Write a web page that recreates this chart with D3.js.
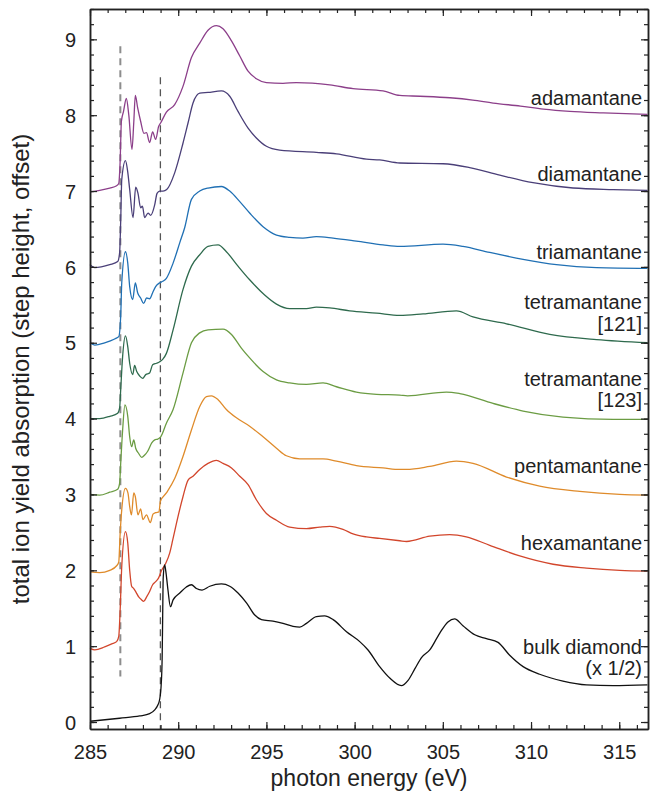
<!DOCTYPE html>
<html>
<head>
<meta charset="utf-8">
<script src="https://cdn.jsdelivr.net/npm/d3@7/dist/d3.min.js"></script>
<style>
  html, body { margin: 0; padding: 0; background: #fff; }
  svg { display: block; font-family: "Liberation Sans", Arial, Helvetica, sans-serif; }
</style>
</head>
<body>
<svg id="chart" width="657" height="793"></svg>
<script>
// ---------------- data (photon energy eV, offset absorption) ----------------
const seriesNames = ["adamantane", "diamantane", "triamantane", "tetramantane [121]",
  "tetramantane [123]", "pentamantane", "hexamantane", "bulk diamond (x 1/2)"];

const adamantane = [[285.0,6.99],[285.55,7.01],[286.12,7.04],[286.51,7.07],[286.63,7.10],[286.71,7.40],[286.78,7.92],[286.9,8.05],[287.06,8.22],[287.2,8.0],[287.38,7.55],[287.48,7.9],[287.57,8.26],[287.7,8.1],[287.87,7.92],[288.06,7.76],[288.2,7.77],[288.38,7.64],[288.55,7.78],[288.72,7.68],[288.89,7.85],[289.01,7.90],[289.33,8.04],[289.80,8.14],[290.27,8.38],[290.75,8.76],[291.22,8.95],[291.69,9.12],[292.17,9.18],[292.54,9.14],[293.02,8.98],[293.49,8.78],[293.96,8.58],[294.43,8.48],[295.0,8.43],[295.94,8.42],[296.70,8.43],[298.59,8.40],[299.91,8.35],[301.61,8.32],[302.56,8.26],[303.7,8.25],[305.4,8.23],[306.7,8.20],[307.85,8.16],[309.4,8.12],[310.7,8.08],[312.2,8.05],[314.1,8.03],[316.6,8.01]];

const diamantane = [[285.0,6.03],[285.27,5.99],[286.12,6.03],[286.57,6.07],[286.68,6.19],[286.74,6.6],[286.80,7.15],[287.01,7.40],[287.14,7.25],[287.25,7.02],[287.44,6.65],[287.59,7.05],[287.72,6.97],[287.87,6.78],[287.97,6.80],[288.10,6.65],[288.29,6.71],[288.44,6.68],[288.67,6.82],[288.80,6.97],[288.95,7.00],[289.14,7.00],[289.35,7.02],[289.80,7.24],[290.27,7.63],[290.56,7.90],[290.84,8.16],[291.22,8.29],[291.69,8.30],[292.45,8.32],[292.92,8.25],[293.39,8.05],[293.96,7.83],[294.43,7.70],[295.0,7.59],[295.75,7.54],[297.83,7.51],[298.97,7.49],[300.67,7.42],[301.42,7.41],[302.56,7.37],[305.01,7.36],[306.52,7.31],[308.23,7.21],[310.11,7.11],[312.38,7.04],[314.65,7.02],[316.6,7.01]];

const triamantane = [[285.0,5.0],[285.27,4.97],[285.83,5.0],[286.4,5.05],[286.63,5.08],[286.74,5.35],[286.80,5.79],[287.01,6.20],[287.14,6.05],[287.25,5.74],[287.42,5.57],[287.57,5.79],[287.70,5.66],[287.87,5.59],[288.04,5.52],[288.21,5.59],[288.38,5.58],[288.55,5.66],[288.72,5.74],[288.95,5.79],[289.12,5.81],[289.33,5.85],[289.71,6.05],[290.09,6.32],[290.37,6.52],[290.75,6.89],[291.22,7.0],[291.69,7.04],[292.45,7.06],[292.92,7.0],[293.49,6.86],[294.05,6.71],[294.81,6.53],[295.57,6.42],[296.32,6.39],[297.07,6.38],[297.83,6.40],[298.78,6.38],[300.10,6.34],[301.61,6.29],[302.56,6.27],[305.01,6.30],[306.14,6.27],[307.66,6.19],[309.55,6.10],[311.44,6.03],[313.71,5.99],[316.6,5.98]];

const tetramantane121 = [[285.0,4.0],[285.55,4.0],[286.12,4.03],[286.57,4.07],[286.68,4.14],[286.74,4.38],[286.85,4.82],[287.01,5.09],[287.14,4.95],[287.25,4.73],[287.42,4.58],[287.53,4.70],[287.65,4.62],[287.82,4.56],[287.99,4.53],[288.16,4.58],[288.38,4.60],[288.55,4.71],[288.78,4.73],[288.95,4.75],[289.12,4.78],[289.33,4.86],[289.71,5.17],[290.27,5.70],[290.75,6.01],[291.22,6.16],[291.69,6.27],[292.26,6.29],[292.73,6.20],[293.39,6.01],[294.05,5.83],[294.90,5.63],[295.57,5.51],[296.32,5.45],[297.27,5.45],[297.83,5.47],[298.59,5.46],[299.72,5.42],[301.24,5.39],[302.56,5.36],[303.88,5.38],[305.77,5.42],[306.71,5.34],[308.61,5.25],[311.06,5.11],[313.71,5.04],[316.6,5.0]];

const tetramantane123 = [[285.0,3.0],[285.55,2.99],[286.12,3.03],[286.57,3.07],[286.68,3.15],[286.74,3.41],[286.85,3.85],[286.98,4.18],[287.14,4.03],[287.25,3.76],[287.36,3.63],[287.48,3.72],[287.59,3.61],[287.76,3.54],[287.93,3.49],[288.10,3.52],[288.27,3.57],[288.50,3.68],[288.67,3.72],[288.84,3.73],[289.01,3.76],[289.33,3.94],[289.71,4.12],[290.27,4.60],[290.75,5.0],[291.22,5.13],[291.69,5.17],[292.54,5.18],[293.02,5.11],[293.58,4.93],[294.05,4.80],[294.81,4.62],[295.57,4.51],[296.32,4.47],[297.27,4.45],[298.21,4.47],[298.97,4.42],[300.10,4.35],[301.24,4.32],[302.56,4.31],[303.0,4.30],[305.2,4.35],[305.96,4.33],[307.85,4.20],[309.55,4.10],[311.81,4.02],[314.65,3.99],[316.6,3.99]];

const pentamantane = [[285.0,1.98],[285.55,1.97],[286.12,2.0],[286.51,2.06],[286.63,2.11],[286.71,2.49],[286.80,2.80],[287.01,3.08],[287.15,3.02],[287.25,2.84],[287.35,2.73],[287.48,3.02],[287.57,2.97],[287.72,2.73],[287.87,2.81],[288.0,2.67],[288.20,2.73],[288.42,2.63],[288.57,2.74],[288.72,2.76],[288.91,2.77],[288.99,2.91],[289.33,3.02],[289.80,3.21],[290.27,3.50],[290.75,3.85],[291.22,4.16],[291.60,4.29],[291.88,4.30],[292.26,4.25],[292.73,4.12],[293.30,4.01],[294.05,3.90],[294.81,3.76],[295.57,3.61],[296.13,3.51],[296.89,3.47],[298.21,3.47],[298.97,3.44],[300.10,3.38],[301.61,3.35],[302.56,3.33],[302.94,3.33],[304.26,3.37],[305.77,3.44],[306.71,3.41],[308.61,3.23],[310.49,3.11],[312.76,3.04],[315.03,3.00],[316.6,2.99]];

const hexamantane = [[285.0,0.97],[285.27,0.95],[285.83,0.99],[286.23,1.03],[286.51,1.06],[286.63,1.13],[286.71,1.48],[286.80,2.05],[287.01,2.51],[287.14,2.36],[287.25,2.0],[287.36,1.79],[287.48,1.76],[287.59,1.72],[287.76,1.65],[287.93,1.61],[288.04,1.59],[288.21,1.65],[288.38,1.72],[288.55,1.81],[288.72,1.85],[288.89,1.90],[289.06,2.0],[289.29,2.09],[289.52,2.23],[289.69,2.40],[289.90,2.62],[290.27,2.97],[290.56,3.19],[290.84,3.24],[291.22,3.33],[291.69,3.41],[292.17,3.45],[292.54,3.41],[293.02,3.35],[293.49,3.24],[293.96,3.13],[294.43,2.93],[295.0,2.75],[295.57,2.66],[296.32,2.57],[297.27,2.55],[298.02,2.57],[298.59,2.58],[299.34,2.54],[299.91,2.48],[300.67,2.44],[301.42,2.42],[302.56,2.39],[302.94,2.38],[304.26,2.45],[305.39,2.47],[306.33,2.44],[307.66,2.33],[309.36,2.19],[311.25,2.08],[313.14,2.03],[315.03,2.00],[316.6,1.99]];

const bulkDiamond = [[285.0,0.01],[286.68,0.05],[287.82,0.08],[288.38,0.11],[288.67,0.16],[288.84,0.22],[288.95,0.30],[289.04,0.51],[289.09,0.85],[289.12,1.40],[289.15,1.9],[289.23,2.07],[289.29,2.0],[289.42,1.74],[289.56,1.52],[289.71,1.61],[290.09,1.70],[290.46,1.78],[290.75,1.81],[291.03,1.76],[291.35,1.74],[291.79,1.79],[292.45,1.82],[292.92,1.79],[293.39,1.70],[293.87,1.57],[294.34,1.41],[294.72,1.35],[295.37,1.33],[295.94,1.30],[296.51,1.26],[296.89,1.25],[297.27,1.30],[297.83,1.39],[298.30,1.40],[298.78,1.35],[299.54,1.19],[300.29,1.06],[300.76,0.95],[301.42,0.73],[301.99,0.58],[302.65,0.48],[303.03,0.55],[303.41,0.70],[303.79,0.85],[304.26,0.95],[304.82,1.17],[305.29,1.32],[305.67,1.36],[306.14,1.27],[306.81,1.15],[307.47,1.10],[308.13,1.05],[308.79,0.88],[309.55,0.73],[310.49,0.63],[311.81,0.54],[313.14,0.49],[314.65,0.48],[316.6,0.49]];

// label lines (text) for each series
const labelLines = [["adamantane"], ["diamantane"], ["triamantane"], ["tetramantane", "[121]"],
  ["tetramantane", "[123]"], ["pentamantane"], ["hexamantane"], ["bulk diamond", "(x 1/2)"]];
// baseline value (in y units) of first label line
const labelValues = [8.13, 7.13, 6.11, 5.44, 4.43, 3.28, 2.27, 0.90];

// reference edges (dashed lines): energy, top value, bottom value
const dashEnergy = [286.72, 288.99];
const dashTop = [8.91, 8.50];
const dashBottom = [0.60, -0.092];

const xTickLabels = [285, 290, 295, 300, 305, 310, 315];
const yTickLabels = [0, 1, 2, 3, 4, 5, 6, 7, 8, 9];

// ---------------- layout / style ----------------
const colors = ["#8c3f8a", "#4a3f78", "#2070b4", "#2e6a4d", "#6b9c43", "#df8b2b", "#d2462c", "#111111"];
const allSeries = [adamantane, diamantane, triamantane, tetramantane121, tetramantane123, pentamantane, hexamantane, bulkDiamond];

const W = 657, H = 793;
const margin = {left: 90, top: 9, right: 9, bottom: 64};
const iw = W - margin.left - margin.right, ih = H - margin.top - margin.bottom;

const svg = d3.select("#chart");
const g = svg.append("g").attr("transform", `translate(${margin.left},${margin.top})`);

const x = d3.scaleLinear().domain([285, 316.63]).range([0, iw]);
const y = d3.scaleLinear().domain([-0.092, 9.40]).range([ih, 0]);

// dashed reference lines
g.selectAll("line.dash").data(dashEnergy).join("line")
  .attr("class", "dash")
  .attr("x1", d => x(d)).attr("x2", d => x(d))
  .attr("y1", (d, i) => y(dashTop[i])).attr("y2", (d, i) => y(dashBottom[i]))
  .attr("stroke", (d, i) => i === 0 ? "#8d8d8d" : "#555")
  .attr("stroke-width", (d, i) => i === 0 ? 2 : 1.3)
  .attr("stroke-dasharray", "7,5");

// curves
const line = d3.line().x(d => x(d[0])).y(d => y(d[1])).curve(d3.curveMonotoneX);
g.selectAll("path.spec").data(allSeries).join("path")
  .attr("class", "spec")
  .attr("d", line)
  .attr("fill", "none")
  .attr("stroke", (d, i) => colors[i])
  .attr("stroke-width", 1.3)
  .attr("stroke-linejoin", "round");

// axes
const xMinor = d3.range(285, 317, 1);
const yMinor = d3.range(0, 9.41, 0.2);
function styleAxis(sel) {
  sel.selectAll(".domain").attr("stroke", "#222").attr("stroke-width", 1.5);
  sel.selectAll(".tick line").attr("stroke", "#222").attr("stroke-width", 1.2);
}
const noLab = () => "";
// bottom
g.append("g").attr("transform", `translate(0,${ih})`)
  .call(d3.axisBottom(x).tickValues(xMinor).tickSize(-4).tickSizeOuter(0).tickFormat(noLab)).call(styleAxis);
const bx = g.append("g").attr("transform", `translate(0,${ih})`)
  .call(d3.axisBottom(x).tickValues(xTickLabels).tickSize(-7).tickSizeOuter(0).tickPadding(0).tickFormat(d3.format("d")))
  .call(styleAxis);
bx.selectAll(".tick text").attr("y", 30).attr("dy", 0).attr("font-size", 20).attr("fill", "#222")
  .attr("font-family", "Liberation Sans, Arial, sans-serif");
// top
g.append("g").call(d3.axisTop(x).tickValues(xMinor).tickSize(-4).tickSizeOuter(0).tickFormat(noLab)).call(styleAxis);
g.append("g").call(d3.axisTop(x).tickValues(xTickLabels).tickSize(-7).tickSizeOuter(0).tickFormat(noLab)).call(styleAxis);
// left
g.append("g").call(d3.axisLeft(y).tickValues(yMinor).tickSize(-4).tickSizeOuter(0).tickFormat(noLab)).call(styleAxis);
const ly = g.append("g").call(d3.axisLeft(y).tickValues(yTickLabels).tickSize(-7).tickSizeOuter(0).tickPadding(0).tickFormat(d3.format("d")))
  .call(styleAxis);
ly.selectAll(".tick text").attr("x", -14).attr("dy", "0.36em").attr("font-size", 20).attr("fill", "#222")
  .attr("font-family", "Liberation Sans, Arial, sans-serif");
// right
g.append("g").attr("transform", `translate(${iw},0)`)
  .call(d3.axisRight(y).tickValues(yMinor).tickSize(-4).tickSizeOuter(0).tickFormat(noLab)).call(styleAxis);
g.append("g").attr("transform", `translate(${iw},0)`)
  .call(d3.axisRight(y).tickValues(yTickLabels).tickSize(-7).tickSizeOuter(0).tickFormat(noLab)).call(styleAxis);

// series labels
labelLines.forEach((lines, i) => {
  const t = g.append("text")
    .attr("x", iw - 6).attr("y", y(labelValues[i]))
    .attr("text-anchor", "end").attr("font-size", 20).attr("fill", "#222");
  lines.forEach((s, k) => {
    t.append("tspan").attr("x", iw - 6).attr("dy", k === 0 ? 0 : 21.5).text(s);
  });
});

// axis titles
svg.append("text")
  .attr("x", margin.left + iw / 2).attr("y", 786)
  .attr("text-anchor", "middle").attr("font-size", 23).attr("fill", "#222")
  .text("photon energy (eV)");
svg.append("text")
  .attr("transform", `translate(29,${margin.top + ih / 2}) rotate(-90)`)
  .attr("text-anchor", "middle").attr("font-size", 24).attr("fill", "#222")
  .text("total ion yield absorption (step height, offset)");
</script>
</body>
</html>
